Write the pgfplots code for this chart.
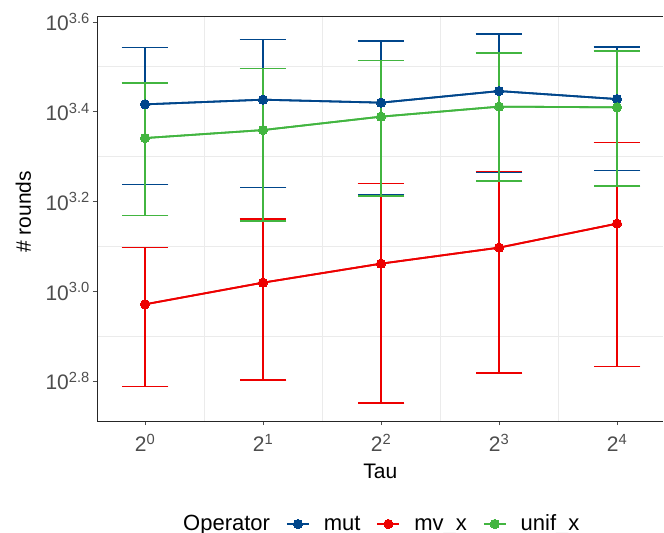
\documentclass[border=0pt]{standalone}
\usepackage{pgfplots}
\pgfplotsset{compat=1.18}
\usepackage{pgfplotstable}
\usepackage{fontspec}
\setmainfont{Liberation Sans}
\definecolor{mutc}{HTML}{00468B}
\definecolor{mvc}{HTML}{ED0000}
\definecolor{unifc}{HTML}{42B540}
\definecolor{tickc}{HTML}{4D4D4D}
\definecolor{gridc}{HTML}{EBEBEB}

% x = log2(Tau), y = log10(# rounds): mean, lower and upper end of the error bar
\pgfplotstableread{
x y lo hi
0 3.4166 3.2377 3.5430
1 3.4270 3.2317 3.5614
2 3.4204 3.2154 3.5577
3 3.4462 3.2658 3.5733
4 3.4284 3.2688 3.5443
}\mut
\pgfplotstableread{
x y lo hi
0 2.9710 2.7880 3.0980
1 3.0193 2.8023 3.1610
2 3.0616 2.7510 3.2406
3 3.0973 2.8178 3.2666
4 3.1508 2.8321 3.3313
}\mvx
\pgfplotstableread{
x y lo hi
0 3.3415 3.1686 3.4640
1 3.3593 3.1566 3.4961
2 3.3892 3.2123 3.5140
3 3.4115 3.2457 3.5310
4 3.4100 3.2346 3.5354
}\unifx

\pgfplotsset{
  errplot/.style={forget plot, #1, line width=1.8bp, mark=none,
    error bars/.cd, y dir=both, y explicit,
    error bar style={draw=#1, line width=1.6bp},
    error mark options={draw=#1, rotate=90, mark size=23.3bp, line width=1.5bp}},
  lineplot/.style={#1, line width=1.8bp, mark=*, mark size=4.6bp,
    mark options={solid, fill=#1, draw=#1, line width=0pt}},
}

\begin{document}
\begin{tikzpicture}
\path[use as bounding box] (0,0) rectangle (664bp,533bp);
\begin{axis}[
  at={(97bp,112bp)}, anchor=south west,
  x=118bp, y=448.75bp,
  xmin=-0.4068, xmax=4.394, ymin=2.711, ymax=3.6127,
  axis x line*=box, axis y line*=left,
  axis line style={black!85, line width=0.9bp},
  xtick={0,1,2,3,4},
  xticklabels={2\textsuperscript{0},2\textsuperscript{1},2\textsuperscript{2},2\textsuperscript{3},2\textsuperscript{4}},
  ytick={2.8,3.0,3.2,3.4,3.6},
  yticklabels={10\textsuperscript{2.8},10\textsuperscript{3.0},10\textsuperscript{3.2},10\textsuperscript{3.4},10\textsuperscript{3.6}},
  minor xtick={0.5,1.5,2.5,3.5}, minor ytick={2.9,3.1,3.3,3.5},
  xminorgrids, yminorgrids,
  minor grid style={gridc, line width=0.9bp},
  minor tick length=0pt, major tick length=4bp,
  xtick pos=bottom, ytick pos=left, tick align=outside,
  tick style={tickc, line width=0.9bp},
  ticklabel style={font=\fontsize{21bp}{25bp}\selectfont, text=tickc, inner sep=0pt},
  yticklabel style={xshift=-3bp},
  xticklabel style={yshift=-9bp},
  xlabel={Tau}, ylabel={\# rounds},
  label style={font=\fontsize{21bp}{25bp}\selectfont, text=black},
  xlabel style={at={(axis description cs:0.5,0)}, anchor=base, yshift=-57bp},
  ylabel style={at={(axis description cs:0,0.5)}, anchor=base, yshift=66bp, xshift=7bp},
  legend image code/.code={\draw[mark repeat=2,mark phase=2,#1] plot coordinates {(0bp,0bp) (11bp,0bp) (22bp,0bp)};},
  legend columns=-1,
  legend style={draw=none, fill=none, inner sep=0pt,
    at={(axis description cs:0.1271,-0.2546)}, anchor=west,
    font=\fontsize{22bp}{26bp}\selectfont,
    nodes={inner sep=0pt, text height=1.44em, text depth=0.2em},
    /tikz/every odd column/.append style={column sep=14bp},
    /tikz/every even column/.append style={column sep=16bp}},
]
% error bars first (drawn under all lines)
\addplot[errplot=mutc]
  table[x=x, y=y, y error plus expr=\thisrow{hi}-\thisrow{y}, y error minus expr=\thisrow{y}-\thisrow{lo}] {\mut};
\addplot[errplot=mvc]
  table[x=x, y=y, y error plus expr=\thisrow{hi}-\thisrow{y}, y error minus expr=\thisrow{y}-\thisrow{lo}] {\mvx};
\addplot[errplot=unifc]
  table[x=x, y=y, y error plus expr=\thisrow{hi}-\thisrow{y}, y error minus expr=\thisrow{y}-\thisrow{lo}] {\unifx};

\addlegendimage{empty legend}
\addlegendentry{Operator}
\addplot[lineplot=mutc] table[x=x, y=y] {\mut};
\addlegendentry{mut}
\addplot[lineplot=mvc] table[x=x, y=y] {\mvx};
\addlegendentry{mv\_x}
\addplot[lineplot=unifc] table[x=x, y=y] {\unifx};
\addlegendentry{unif\_x}
\end{axis}
\end{tikzpicture}
\end{document}
